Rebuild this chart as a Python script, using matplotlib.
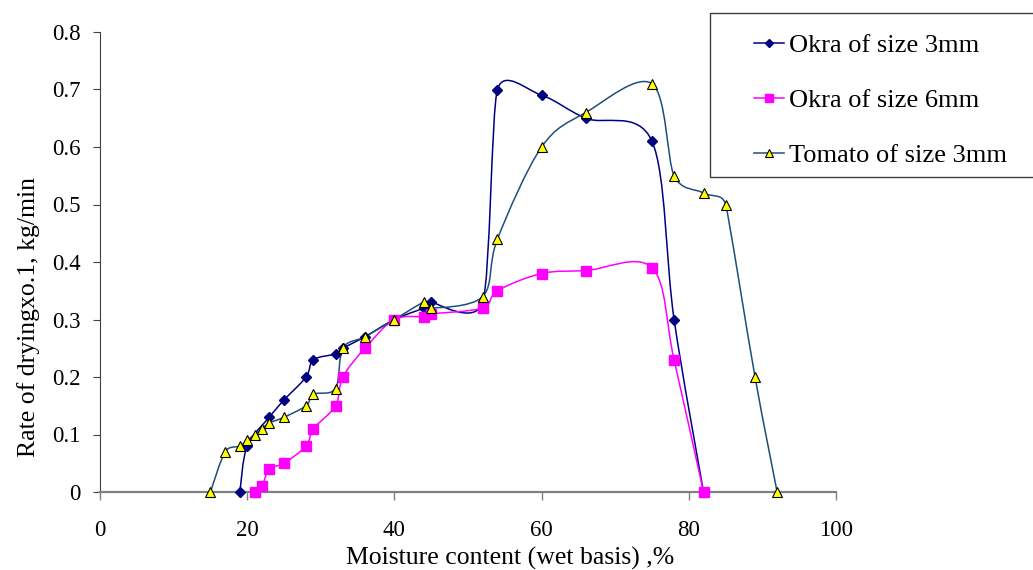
import matplotlib
matplotlib.use("Agg")

import numpy as np
import matplotlib.pyplot as plt
from matplotlib.path import Path
from matplotlib.patches import PathPatch, Rectangle
from matplotlib.lines import Line2D

# Moisture content (%) and drying rate
okra3_x = [19, 20, 23, 25, 28, 29, 32, 33, 36, 40, 44, 45, 52, 54, 60, 66, 75, 78, 82]
okra3_y = [0, 0.08, 0.13, 0.16, 0.20, 0.23, 0.24, 0.25, 0.27, 0.30, 0.32, 0.33, 0.33,
           0.70, 0.69, 0.65, 0.61, 0.30, 0]

okra6_x = [21, 22, 23, 25, 28, 29, 32, 33, 36, 40, 44, 45, 52, 54, 60, 66, 75, 78, 82]
okra6_y = [0, 0.01, 0.04, 0.05, 0.08, 0.11, 0.15, 0.20, 0.25, 0.30, 0.305, 0.31, 0.32,
           0.35, 0.38, 0.385, 0.39, 0.23, 0]

tomato_x = [15, 17, 19, 20, 21, 22, 23, 25, 28, 29, 32, 33, 36, 40, 44, 45, 52, 54, 60,
            66, 75, 78, 82, 85, 89, 92]
tomato_y = [0, 0.07, 0.08, 0.09, 0.10, 0.11, 0.12, 0.13, 0.15, 0.17, 0.18, 0.25, 0.27,
            0.30, 0.33, 0.32, 0.34, 0.44, 0.60, 0.66, 0.71, 0.55, 0.52, 0.50, 0.20, 0]

labels = ["Okra of size 3mm", "Okra of size 6mm", "Tomato of size 3mm"]

# axes size in pixels, used so the smoothing works in screen space
AX_W, AX_H = 736, 460
XMAX, YMAX = 100, 0.8


def smooth_path(xs, ys):
    """Excel-style smoothed line: Bezier with 1/6 tangents, capped at half the shorter chord"""
    scale = np.array([AX_W / XMAX, AX_H / YMAX])
    p = np.column_stack([xs, ys]).astype(float) * scale
    n = len(p)
    offs = np.zeros_like(p)
    for i in range(n):
        if i == 0:
            v = p[1] - p[0]
            dmin = np.hypot(*v)
        elif i == n - 1:
            v = p[-1] - p[-2]
            dmin = np.hypot(*v)
        else:
            v = p[i + 1] - p[i - 1]
            dmin = min(np.hypot(*(p[i] - p[i - 1])), np.hypot(*(p[i + 1] - p[i])))
        vlen = np.hypot(*v)
        f = 1 / 6.0
        if vlen > 0 and vlen * f > dmin / 2:
            f = dmin / (2 * vlen)
        offs[i] = v * f
    verts = [p[0]]
    codes = [Path.MOVETO]
    for i in range(n - 1):
        verts += [p[i] + offs[i], p[i + 1] - offs[i + 1], p[i + 1]]
        codes += [Path.CURVE4] * 3
    return Path(np.array(verts) / scale, codes)


plt.rcParams["font.family"] = ["Liberation Serif", "DejaVu Serif"]

fig = plt.figure(figsize=(10.33, 5.70), dpi=100)
ax = fig.add_axes([100 / 1033, 1 - 492 / 570, AX_W / 1033, AX_H / 570])

series = [
    (okra3_x, okra3_y, "#000080", dict(marker="D", ms=5, mfc="#000080", mec="#000080")),
    (okra6_x, okra6_y, "#FF00FF", dict(marker="s", ms=6.5, mfc="#FF00FF", mec="#FF00FF")),
    (tomato_x, tomato_y, "#1F4E79", dict(marker="^", ms=7, mfc="#FFFF00", mec="black", mew=0.8)),
]

handles = []
for (xs, ys, col, mk), lab in zip(series, labels):
    ax.add_patch(PathPatch(smooth_path(xs, ys), fill=False, edgecolor=col, lw=1.1, zorder=2))
    ax.plot(xs, ys, ls="none", zorder=3, clip_on=False, **mk)
    handles.append(Line2D([], [], color=col, lw=1.1, **mk))

ax.set_xlim(0, XMAX)
ax.set_ylim(0, YMAX)
ax.set_xticks(np.arange(0, 101, 20))
ax.set_yticks(np.arange(0, 0.81, 0.1))
ax.set_yticklabels(["0" if v == 0 else f"{v:.1f}" for v in np.arange(0, 0.81, 0.1)])

for s in ("top", "right"):
    ax.spines[s].set_visible(False)
ax.spines["bottom"].set_color("#808080")
ax.spines["bottom"].set_linewidth(1.6)
ax.spines["left"].set_color("#404040")
ax.spines["left"].set_linewidth(0.8)

ax.tick_params(axis="x", direction="out", length=6, width=1, color="#808080", pad=14,
               labelsize=16.5)
ax.tick_params(axis="y", direction="out", length=5, width=0.8, color="#404040", pad=9,
               labelsize=16.5)

ax.set_xlabel("Moisture content (wet basis) ,%", fontsize=18.5)
ax.xaxis.set_label_coords(0.557, -0.119)
ax.set_ylabel("Rate of dryingxo.1, kg/min", fontsize=18.5)
ax.yaxis.set_label_coords(-0.082, 0.38)

# Legend box runs off the right edge of the figure
fig.add_artist(Rectangle((710 / 1033, 1 - 177 / 570), 0.4, 164 / 570,
                         transform=fig.transFigure, fill=False, edgecolor="#404040", lw=1))
fig.legend(handles, labels, loc="upper left", bbox_to_anchor=(730 / 1033, 1 - 10 / 570),
           frameon=False, fontsize=19, handlelength=1.15, handletextpad=0.2,
           labelspacing=1.19, markerscale=0.8)

fig.savefig("out.png", dpi=100)
